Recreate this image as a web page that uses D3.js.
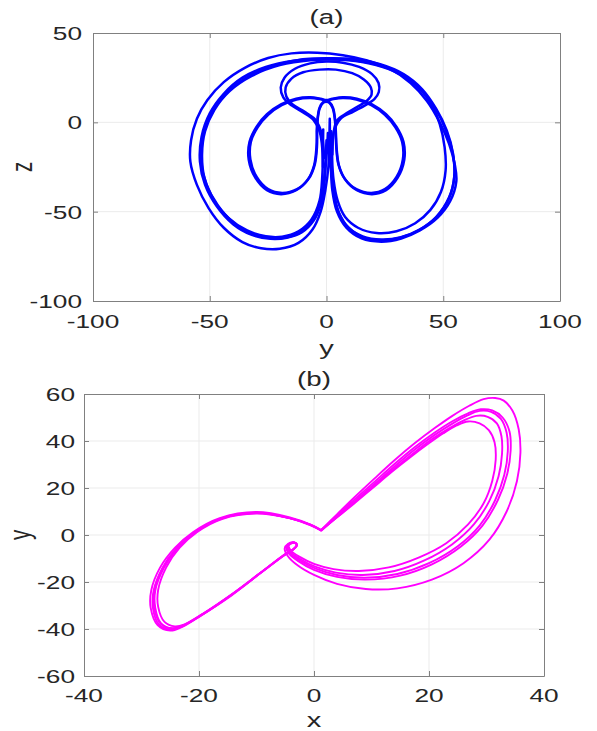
<!DOCTYPE html>
<html>
<head>
<meta charset="utf-8">
<script src="https://cdn.jsdelivr.net/npm/d3@7"></script>
<style>
  html, body { margin: 0; padding: 0; background: #ffffff; }
  svg { display: block; }
</style>
</head>
<body>
<svg id="chart" width="597" height="731"></svg>
<script>
// ---------- tick values ----------
const aXTicks = [-100, -50, 0, 50, 100];
const aYTicks = [-100, -50, 0, 50];
const bXTicks = [-40, -20, 0, 20, 40];
const bYTicks = [-60, -40, -20, 0, 20, 40, 60];

// ---------- panel (a): trajectory projected on the y–z plane ----------
// outer heart-shaped circuits
const heartOuter = [[1.4,2],[1.2,-10],[0.8,-25],[-0.5,-38],[-2.5,-50],[-6,-60],[-12,-67.5],[-20,-70.8],[-28,-70.5],[-36,-67],[-44,-59],[-50.5,-48],[-55.5,-35],[-58.3,-22],[-58,-10],[-55.5,2],[-51,12.5],[-44,22.5],[-35,30.5],[-25,36],[-15,38.6],[-4,39],[7,37.6],[17,34.8],[27,30],[36,22],[43,12],[48.5,0],[52.5,-12],[55,-24],[55.6,-33],[53,-44],[47.5,-53.5],[40,-60.5],[32,-65],[23.5,-66.8],[15,-65],[8.5,-59],[4.5,-50],[2.5,-38],[1.8,-22],[1.5,-8],[1.4,2]];
const heartMid = [[0.6,-6],[0.3,-14],[-0.2,-22],[-1,-35],[-2.5,-46],[-5.5,-55],[-10.5,-61.5],[-17,-64.6],[-24,-65.2],[-32,-63],[-40,-57],[-47,-47],[-52,-35],[-54.2,-22],[-53.5,-8],[-50,5],[-44,16],[-36,25],[-26,31],[-14,34.5],[-2,35.6],[10,35],[21,32.5],[31,27.5],[40,19],[46.5,8],[51,-4],[54,-17],[54.8,-30],[52.5,-42],[47,-53],[40,-60],[32,-64.5],[24,-66],[16,-64.5],[9.5,-59],[5.5,-51],[3.2,-40],[2.2,-25],[1.8,-14],[1.7,-7]];
const heartMid2 = [[0,-10],[-0.3,-18],[-0.8,-28],[-2,-42],[-5,-53],[-10,-60.5],[-16.5,-64.2],[-23.5,-64.8],[-31.5,-62.8],[-39.5,-56.5],[-46.5,-46.5],[-51.5,-34.5],[-53.7,-21.5],[-53,-8],[-49.5,4.5],[-43.5,15.5],[-35,24.5],[-24.5,31],[-12.5,34.8],[0,35.8],[12,35.3],[23,32.5],[33,27],[41,18.5],[47,7.5],[51.5,-4.5],[54.2,-17.5],[54.7,-30.5],[52.5,-42.5],[47,-53],[39.5,-60.3],[31.5,-64.5],[23.5,-65.6],[15.5,-63.8],[9,-58.5],[5,-50],[3,-39],[2,-24],[1.6,-14],[1.4,-9]];
const heartInner = [[-1.4,-4],[-1.5,-12],[-1.8,-30],[-3,-44],[-6.5,-54.5],[-12,-61],[-19,-64],[-26,-63.8],[-34,-60.5],[-42,-53.5],[-48.5,-43],[-52.3,-31],[-53.3,-18],[-52,-5],[-48,7],[-41.5,17.5],[-32,26],[-20,32],[-7,34.8],[6,35],[18,33],[29,28.5],[38,21],[44.5,11],[48.5,-1],[50.6,-14],[51,-27],[49,-39],[44.5,-49],[38,-56.5],[30,-61],[21.5,-62],[13.5,-59],[8,-53],[4.8,-44],[3,-32],[2.3,-18],[2.1,-10],[2,-5]];
// upper double loop, joined to the central column
const crownOuter = [[-1.5,-25],[-2,-12],[-3,-5],[-5.6,1.3],[-10,5.5],[-15,9.5],[-18.5,14],[-19.6,19.5],[-18,25],[-13.5,30],[-7,33],[0,34],[7,33.4],[14,31],[19.5,27],[22.3,22],[22.4,17],[20.5,13],[16.5,9.5],[11.5,6],[6,2],[3.2,-5],[2.5,-15],[2.2,-28]];
const crownInner = [[-1,-20],[-1.6,-10],[-2.6,-4],[-5,1.8],[-9.5,6],[-14.5,10],[-17.2,14.5],[-17.5,19.5],[-15,24.5],[-10,28],[-3,29.5],[4,29.5],[11,27.5],[16,24],[19,19.5],[19.3,15.5],[17.2,12],[13,8.5],[8.5,5],[4.5,1],[3,-6],[2.5,-18]];
// twin inner lobes with the small central loop
const lobesA = [[-4.2,-5],[-4.3,-14],[-5.3,-24],[-8,-32],[-13,-38],[-19.5,-40.2],[-25.5,-38],[-30.5,-31],[-33.3,-21],[-33,-11],[-30,-2.5],[-25.5,4.5],[-19.5,10],[-13,13.2],[-7,14],[-2.5,13.2],[0,12.5],[2.5,13.2],[7,14],[13,13.2],[19.5,10],[25.5,4.5],[30,-2.5],[33,-11],[33.3,-21],[30.5,-31],[25.5,-38],[19.5,-40.2],[13,-38],[8,-32],[5.3,-24],[4.3,-14],[4,-5],[3.6,2.5],[2.8,8],[1.3,11.2],[0,11.8],[-1.5,11.2],[-3,8],[-3.8,2.5],[-4.2,-5]];
const lobesB = [[-4,-5],[-4.1,-14],[-5,-23.5],[-7.6,-31.5],[-12.6,-37.4],[-19,-39.5],[-25,-37.4],[-29.9,-30.6],[-32.6,-20.8],[-32.4,-11],[-29.5,-2.8],[-25,4.2],[-19.2,9.6],[-12.8,12.8],[-7,13.6],[-2.5,12.9],[0,12.2],[2.5,12.9],[7,13.6],[12.8,12.8],[19.2,9.6],[25,4.2],[29.5,-2.8],[32.4,-11],[32.7,-20.8],[30,-30.6],[25,-37.4],[19.2,-39.5],[12.8,-37.4],[7.8,-31.5],[5.1,-23.5],[4.2,-14],[3.9,-5],[3.5,2.5],[2.7,7.8],[1.2,11],[0,11.5],[-1.4,11],[-2.9,7.8],[-3.7,2.5],[-4,-5]];

// ---------- panel (b): trajectory projected on the x–y plane ----------
const wingOuter = [[1.2,2.0],[4,8.8],[7,16],[10.5,24],[14,31.8],[17.5,39],[21,45.5],[24,50.6],[27,55],[29.5,57.8],[31.5,58.3],[33,57.2],[34.5,53],[35.6,45],[35.9,35],[35.3,23],[33.5,10],[30.5,-2],[26,-12],[20.5,-19],[14.5,-22.7],[9,-23],[4,-20.8],[0,-17],[-2.8,-13],[-4.6,-8.8],[-5.1,-5.8],[-4.5,-3.7],[-3.5,-3.2],[-3,-4.2],[-3.6,-6],[-5.2,-8.4],[-9.3,-16.2],[-14.4,-25.8],[-19.6,-34.2],[-23,-39.2],[-25,-40.7],[-27.2,-38.3],[-28.4,-31],[-28.3,-23.5],[-26.8,-14],[-24.2,-5.5],[-21,1.3],[-16.4,7.2],[-10,9.8],[-4.2,7.5],[-0.6,4.4],[1.2,2.0]];
const wingBand1 = [[1.2,2.0],[4,8.3],[7,15],[10.5,22.6],[14,30.2],[17.5,37.3],[21,43.6],[24,48.3],[26.8,51.8],[29,53.5],[31,53],[32.8,50],[34,44],[34.2,36],[33.6,26],[32,15],[29.3,4],[25.5,-5],[20.5,-12.5],[15,-17.3],[9,-19],[4,-17.8],[0,-14.8],[-2.8,-11],[-4.5,-7.5],[-4.8,-5],[-4.1,-3.5],[-3.3,-3.3],[-3,-4.4],[-3.7,-6.3],[-5.2,-8.6],[-9.3,-16.1],[-14.4,-25.5],[-19.4,-33.8],[-22.8,-38.6],[-24.6,-39.7],[-26.6,-37.6],[-27.6,-31],[-27.6,-23.6],[-26.1,-14],[-23.7,-5.6],[-20.6,1.2],[-16.2,6.9],[-10,9.3],[-4.2,7.2],[-0.6,4.3],[1.2,2.0]];
const wingBand2 = [[1.3,1.9],[4.1,8],[7.1,14.4],[10.6,21.9],[14.1,29.4],[17.6,36.5],[21,42.6],[24,47.3],[26.7,50.9],[28.8,52.8],[30.8,52.4],[32.5,49.4],[33.5,43.5],[33.7,35.5],[33.1,25.6],[31.5,14.8],[28.8,4],[25,-4.8],[20,-12],[14.5,-16.6],[8.8,-18.2],[4,-17],[0.2,-14.2],[-2.6,-10.6],[-4.4,-7.3],[-4.7,-4.9],[-4,-3.5],[-3.2,-3.4],[-3,-4.5],[-3.8,-6.5],[-5.3,-8.8],[-9.4,-16.3],[-14.5,-25.7],[-19.5,-34],[-23,-39],[-24.9,-40.2],[-27,-38],[-28,-31.2],[-27.9,-23.8],[-26.4,-14.2],[-24,-5.8],[-20.8,1.1],[-16.3,7],[-10,9.5],[-4.3,7.2],[-0.7,4.2],[1.3,1.9]];
const wingBand3 = [[1.3,2.1],[4.1,7.8],[7.1,14],[10.5,21.2],[14,28.3],[17.4,35],[20.6,40.9],[23.5,45.4],[26,48.7],[28.2,50.7],[30.2,50.3],[31.8,47.5],[32.6,42],[32.7,34.5],[32.1,25],[30.5,14.5],[27.8,4.5],[24,-4],[19.2,-10.8],[14,-15.3],[8.5,-17],[3.8,-16],[0.2,-13.5],[-2.4,-10.2],[-4.2,-7],[-4.6,-4.7],[-3.9,-3.4],[-3.2,-3.4],[-3,-4.3],[-3.6,-6.1],[-5.1,-8.3],[-9.2,-15.9],[-14.3,-25.2],[-19.2,-33.3],[-22.5,-38],[-24.2,-38.9],[-26,-37],[-27.1,-30.6],[-27.1,-23.3],[-25.7,-13.8],[-23.4,-5.5],[-20.3,1.3],[-16,6.8],[-9.9,9.1],[-4.1,7.1],[-0.5,4.3],[1.3,2.1]];
const wingInner = [[1.2,2.0],[4,7.5],[7,13.4],[10.3,20.2],[13.6,27],[16.8,33.2],[19.8,38.7],[22.5,43.3],[24.8,46.6],[26.8,48.3],[28.8,47.5],[30.4,44.6],[31.4,39.5],[31.6,32],[31,23],[29.5,13.5],[26.8,4.5],[23,-3.5],[18.3,-9.5],[13,-13.8],[7.8,-15.3],[3.4,-14.5],[0,-12.3],[-2.4,-9.4],[-4,-6.7],[-4.4,-4.6],[-3.8,-3.4],[-3.1,-3.5],[-3,-4.4],[-3.6,-6.2],[-5.1,-8.5],[-9.2,-16],[-14.3,-25.4],[-19.4,-33.7],[-22.9,-38.6],[-24.7,-39.8],[-26.7,-37.7],[-27.8,-31.1],[-27.8,-23.7],[-26.3,-14.1],[-23.8,-5.7],[-20.6,1.2],[-16.2,6.9],[-10,9.4],[-4.2,7.2],[-0.6,4.3],[1.2,2.0]];

const panelA = {
  title: "(a)", xLabel: "y", yLabel: "z",
  xDomain: [-100, 100], yDomain: [-100, 50],
  xTicks: aXTicks, yTicks: aYTicks,
  traces: [heartOuter, heartMid, heartMid2, heartInner, crownOuter, crownInner, lobesA, lobesB],
  color: "#0000ff", width: 2.5
};
const panelB = {
  title: "(b)", xLabel: "x", yLabel: "y",
  xDomain: [-40, 40], yDomain: [-60, 60],
  xTicks: bXTicks, yTicks: bYTicks,
  traces: [wingOuter, wingBand1, wingBand2, wingBand3, wingInner],
  color: "#ff00ff", width: 1.9
};

// ---------- drawing ----------
const svg = d3.select("#chart");
const TEXT = "#262626", AXIS = "#808080", GRID = "#ebebeb";
const FONT = "'Liberation Sans', Arial, Helvetica, sans-serif";
const SX = 1.42; // glyphs are drawn wide

function label(g, str, x, y, size, anchor, rotate) {
  g.append("text")
    .attr("transform", `translate(${x},${y}) scale(${SX},1)` + (rotate ? " rotate(-90)" : ""))
    .attr("text-anchor", anchor)
    .attr("font-family", FONT)
    .attr("font-size", size)
    .attr("fill", TEXT)
    .text(str);
}

function drawPanel(p, box, lay) {
  const g = svg.append("g");
  const x = d3.scaleLinear().domain(p.xDomain).range([box.left, box.right]);
  const y = d3.scaleLinear().domain(p.yDomain).range([box.bottom, box.top]);

  // grid
  g.append("g").selectAll("line").data(p.xTicks.slice(1, -1)).join("line")
    .attr("x1", d => x(d)).attr("x2", d => x(d))
    .attr("y1", box.top).attr("y2", box.bottom)
    .attr("stroke", GRID).attr("stroke-width", 1);
  g.append("g").selectAll("line").data(p.yTicks.slice(1, -1)).join("line")
    .attr("y1", d => y(d)).attr("y2", d => y(d))
    .attr("x1", box.left).attr("x2", box.right)
    .attr("stroke", GRID).attr("stroke-width", 1);

  // trajectory
  const line = d3.line().x(d => x(d[0])).y(d => y(d[1]))
    .curve(d3.curveCatmullRom.alpha(0.5));
  g.append("g").selectAll("path").data(p.traces).join("path")
    .attr("d", line)
    .attr("fill", "none")
    .attr("stroke", p.color)
    .attr("stroke-width", p.width)
    .attr("stroke-linejoin", "round")
    .attr("stroke-linecap", "round");

  // axes: inward ticks on all four sides
  const styleAxis = sel => {
    sel.selectAll("path.domain").attr("stroke", AXIS).attr("stroke-width", 1);
    sel.selectAll(".tick line").attr("stroke", AXIS).attr("stroke-width", 1);
  };
  const tk = 5;
  g.append("g").attr("transform", `translate(0,${box.bottom})`)
    .call(d3.axisBottom(x).tickValues(p.xTicks).tickSize(-tk).tickSizeOuter(0).tickFormat(""))
    .call(styleAxis);
  g.append("g").attr("transform", `translate(0,${box.top})`)
    .call(d3.axisTop(x).tickValues(p.xTicks).tickSize(-tk).tickSizeOuter(0).tickFormat(""))
    .call(styleAxis);
  g.append("g").attr("transform", `translate(${box.left},0)`)
    .call(d3.axisLeft(y).tickValues(p.yTicks).tickSize(-tk).tickSizeOuter(0).tickFormat(""))
    .call(styleAxis);
  g.append("g").attr("transform", `translate(${box.right},0)`)
    .call(d3.axisRight(y).tickValues(p.yTicks).tickSize(-tk).tickSizeOuter(0).tickFormat(""))
    .call(styleAxis);

  // tick labels
  p.xTicks.forEach(t => label(g, String(t), x(t), lay.xTickBase, 18.5, "middle"));
  p.yTicks.forEach(t => label(g, String(t), lay.yTickRight, y(t) + 7, 18.5, "end"));

  // title and axis labels
  label(g, p.title, (box.left + box.right) / 2, lay.titleBase, 19.5, "middle");
  label(g, p.xLabel, (box.left + box.right) / 2, lay.xLabelBase, 20.5, "middle");
  label(g, p.yLabel, lay.yLabelBase, (box.top + box.bottom) / 2, 20.5, "middle", true);
}

drawPanel(panelA, { left: 93, right: 560, top: 33, bottom: 301 },
  { xTickBase: 328, yTickRight: 82, titleBase: 24, xLabelBase: 355, yLabelBase: 32 });
drawPanel(panelB, { left: 84, right: 544, top: 394, bottom: 676 },
  { xTickBase: 702, yTickRight: 75, titleBase: 386, xLabelBase: 727, yLabelBase: 30 });
</script>
</body>
</html>
